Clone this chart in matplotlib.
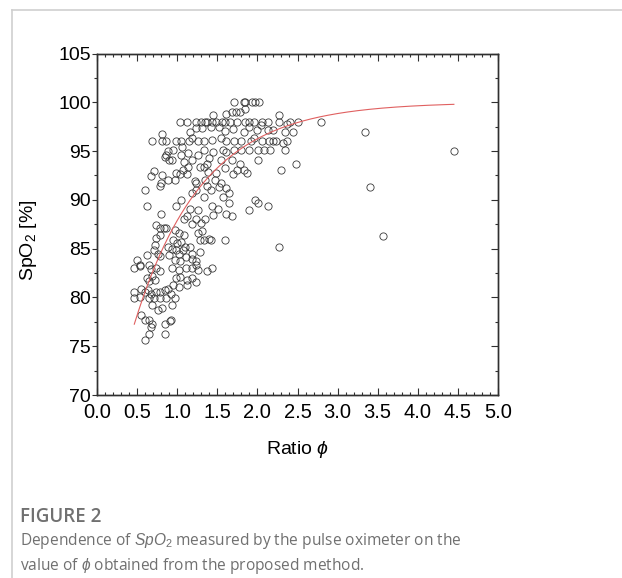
import numpy as np
import matplotlib.pyplot as plt
from matplotlib.lines import Line2D
from matplotlib.ticker import MultipleLocator, FormatStrFormatter

# ratio phi (x) and SpO2 in % (y)
phi = [
    # left part of the cloud, phi < 0.92
    0.60, 0.62, 0.67, 0.71, 0.68, 0.79, 0.80, 0.81, 0.81, 0.81, 0.86, 0.86, 0.89, 0.90,
    0.85, 0.89, 0.80, 0.74, 0.78, 0.83, 0.86, 0.78, 0.74, 0.72, 0.71, 0.76, 0.79, 0.88,
    0.90, 0.50, 0.465, 0.53, 0.62, 0.65, 0.67, 0.74, 0.79, 0.62, 0.65, 0.69, 0.72, 0.465,
    0.55, 0.60, 0.64, 0.67, 0.74, 0.79, 0.85, 0.88, 0.465, 0.53, 0.65, 0.71, 0.78, 0.86,
    0.69, 0.76, 0.81, 0.55, 0.60, 0.65, 0.67, 0.69, 0.65, 0.60, 0.85, 0.91, 0.85, 0.54,
    # upper cloud, SpO2 above ~89
    1.71, 1.83, 1.85, 1.93, 1.97, 2.02, 1.85, 1.68, 1.73, 1.78, 1.45, 1.61,
    1.04, 1.12, 1.23, 1.30, 1.35, 1.37, 1.44, 1.49, 1.56, 1.60, 1.66, 1.75, 1.85, 1.90,
    1.96, 2.06, 2.13, 2.27, 2.41, 2.51, 2.79, 2.27,
    1.16, 1.24, 1.31, 1.42, 1.52, 1.59, 1.70, 1.83, 1.89, 1.99, 2.04, 2.13, 2.20, 2.34,
    2.44, 2.37,
    0.99, 1.05, 1.19, 1.26, 1.33, 1.44, 1.54, 1.61, 1.71, 1.80, 1.92, 1.96, 2.06, 2.15,
    2.20, 2.23, 2.32, 2.37, 1.06, 1.15,
    0.95, 1.05, 1.14, 1.33, 1.45, 1.57, 1.61, 1.71, 1.80, 1.90, 2.01, 2.08, 2.16, 2.34,
    0.93, 1.09, 1.19, 1.28, 1.37, 1.40, 1.54, 1.68, 1.78, 2.01, 2.30, 2.48, 1.26,
    0.99, 1.07, 1.12, 1.39, 1.49, 1.59, 1.70, 1.75, 1.83, 1.87, 1.14, 1.33,
    0.97, 1.23, 1.35, 1.24, 1.37, 1.54, 1.61, 1.64, 1.04, 1.22, 1.47, 1.42, 1.52,
    1.18, 1.33, 1.57, 1.05, 0.99, 1.44, 1.64, 1.97, 2.01, 2.13, 1.90, 1.51, 1.16, 1.26,
    # lower cloud, SpO2 below ~89
    1.68, 1.61, 1.12, 1.19, 1.24, 1.30, 1.45, 1.09, 1.35,
    1.26, 1.33, 1.28, 1.42, 1.59, 2.27, 1.31, 1.40,
    0.97, 1.02, 0.95, 1.00, 1.05, 1.09,
    0.93, 0.99, 1.07, 1.18, 1.28, 1.02, 0.97, 1.04, 1.11, 1.18, 1.24, 1.23, 1.26, 1.37,
    1.44, 1.16, 1.10,
    0.93, 1.02, 1.11, 1.18, 1.04, 1.12, 1.18, 1.24, 0.99, 0.95, 1.02, 1.12, 0.92, 0.97,
    0.93, 0.92,
    # outliers on the right
    3.34, 3.40, 3.57, 4.45,
]
spo2 = [
    91.0, 89.4, 92.4, 93.0, 96.0, 91.4, 91.7, 92.5, 96.7, 96.0, 96.0, 94.6, 95.0, 94.1,
    94.4, 92.0, 88.6, 87.4, 87.1, 87.1, 87.1, 86.4, 86.1, 85.4, 84.9, 84.5, 84.2, 85.2,
    84.3, 83.8, 83.0, 83.3, 84.3, 83.3, 82.9, 83.0, 82.7, 82.0, 81.7, 82.2, 81.8, 80.6,
    80.9, 80.6, 80.8, 80.4, 80.6, 80.6, 80.8, 80.9, 79.9, 80.0, 79.9, 79.9, 79.9, 79.9,
    79.2, 78.7, 78.9, 78.2, 77.7, 77.7, 77.0, 77.3, 76.3, 75.6, 76.3, 77.6, 77.3, 83.2,
    100.0, 100.0, 100.0, 100.0, 100.0, 100.0, 99.3, 99.0, 99.0, 99.0, 98.7, 98.8,
    98.0, 98.0, 98.0, 98.0, 98.0, 98.0, 98.0, 98.0, 98.0, 98.0, 98.0, 98.0, 98.0, 98.0,
    98.0, 98.0, 98.0, 98.0, 98.0, 98.0, 98.0, 98.7,
    97.0, 97.4, 97.4, 97.5, 97.5, 97.1, 97.3, 97.0, 97.5, 97.2, 97.7, 97.2, 97.2, 97.0,
    97.0, 97.8,
    96.0, 96.0, 96.3, 96.0, 96.0, 96.1, 96.3, 96.0, 96.0, 96.0, 96.0, 96.3, 96.0, 96.0,
    96.0, 96.0, 95.8, 96.0, 95.4, 96.0,
    95.1, 94.6, 94.8, 95.1, 94.9, 95.1, 94.9, 95.1, 95.1, 95.1, 95.1, 95.1, 95.1, 95.1,
    94.1, 93.9, 94.1, 93.4, 93.7, 94.3, 94.1, 94.1, 93.7, 94.1, 93.1, 93.7, 94.6,
    92.8, 93.1, 92.6, 92.9, 92.8, 93.3, 92.6, 93.1, 93.1, 92.8, 93.4, 93.4,
    92.0, 91.7, 92.0, 91.0, 91.4, 91.7, 91.2, 90.7, 92.7, 91.9, 92.0, 91.0, 91.3,
    90.7, 90.3, 90.3, 90.0, 89.4, 89.4, 89.7, 90.0, 89.7, 89.4, 89.0, 89.1, 89.1, 89.0,
    88.3, 88.6, 88.3, 87.5, 88.0, 87.6, 88.4, 88.0, 88.0,
    86.6, 85.9, 85.9, 85.9, 85.9, 85.2, 86.8, 86.0,
    86.9, 86.6, 85.9, 85.6, 85.7, 86.4,
    85.0, 84.9, 84.9, 84.5, 84.7, 84.4, 83.8, 83.7, 84.1, 83.9, 83.7, 83.3, 82.8, 82.7,
    83.0, 85.2, 85.2,
    83.0, 82.8, 83.0, 83.0, 82.1, 81.8, 82.0, 81.6, 82.0, 81.3, 81.1, 81.3, 80.4, 79.9,
    79.2, 77.7,
    97.0, 91.3, 86.3, 95.0,
]

# exponential fit drawn in red: SpO2 = A - B * exp(-phi / tau)
fit_A = 100.0
fit_B = 39.3
fit_tau = 0.85
fit_range = (0.465, 4.45)

plt.rcParams['font.family'] = ['Liberation Sans', 'DejaVu Sans']
plt.rcParams['mathtext.fontset'] = 'custom'
plt.rcParams['mathtext.it'] = 'Liberation Sans:italic'
plt.rcParams['mathtext.rm'] = 'Liberation Sans'

fig = plt.figure(figsize=(6.22, 5.78), dpi=100)
ax = fig.add_axes([97 / 622, 183 / 578, 401 / 622, 341.5 / 578])

ax.plot(phi, spo2, 'o', ms=5.2, mfc='none', mec='#3a3a3a', mew=0.6, ls='none')

xf = np.linspace(fit_range[0], fit_range[1], 300)
ax.plot(xf, fit_A - fit_B * np.exp(-xf / fit_tau), color='#e06060', lw=0.8)

ax.set_xlim(0, 5)
ax.set_ylim(70, 105)
ax.xaxis.set_major_locator(MultipleLocator(0.5))
ax.xaxis.set_minor_locator(MultipleLocator(0.1))
ax.xaxis.set_major_formatter(FormatStrFormatter('%.1f'))
ax.yaxis.set_major_locator(MultipleLocator(5))
ax.yaxis.set_minor_locator(MultipleLocator(2.5))

for s in ax.spines.values():
    s.set_linewidth(1.0)
    s.set_color('#303030')

ax.tick_params(axis='x', which='both', direction='in', top=True, bottom=True,
               color='#303030', labelsize=14.5, pad=5.5, width=0.8)
ax.tick_params(axis='x', which='major', length=5)
ax.tick_params(axis='x', which='minor', length=2.5)
ax.tick_params(axis='y', which='both', direction='out', left=True,
               color='#303030', labelsize=14, pad=1, width=0.8)
ax.tick_params(axis='y', which='major', length=3.5)
ax.tick_params(axis='y', which='minor', length=2)

# right axis with inward ticks, no labels
ax2 = ax.twinx()
ax2.set_ylim(70, 105)
ax2.yaxis.set_major_locator(MultipleLocator(5))
ax2.yaxis.set_minor_locator(MultipleLocator(2.5))
ax2.tick_params(axis='y', which='both', direction='in', labelright=False,
                color='#303030', width=0.8)
ax2.tick_params(which='major', length=5)
ax2.tick_params(which='minor', length=2.5)
for s in ax2.spines.values():
    s.set_linewidth(1.0)
    s.set_color('#303030')

ax.set_xlabel(r'Ratio $\phi$', fontsize=14)
ax.set_ylabel(r'SpO$_2$ [%]', fontsize=14)
ax.xaxis.set_label_coords(0.5, -0.13)
ax.yaxis.set_label_coords(-0.145, 0.454)

# card border
fig.add_artist(Line2D([12 / 622, 1], [1 - 10 / 578, 1 - 10 / 578], color='#cfcfcf', lw=1.2))
fig.add_artist(Line2D([12 / 622, 12 / 622], [0, 1 - 10 / 578], color='#cfcfcf', lw=1.2))

cap_font = ['Open Sans', 'DejaVu Sans']
fig.text(20 / 622, 1 - 517 / 578, 'FIGURE 2', fontsize=13.5, color='#707070',
         family=cap_font, weight='semibold', va='center')
fig.text(20 / 622, 1 - 541 / 578,
         r'Dependence of $\mathit{SpO}_2$ measured by the pulse oximeter on the',
         fontsize=11.2, color='#707070', family=cap_font, va='center')
fig.text(20 / 622, 1 - 566 / 578, r'value of $\phi$ obtained from the proposed method.',
         fontsize=11.2, color='#707070', family=cap_font, va='center')

fig.savefig('out.png', dpi=100)
